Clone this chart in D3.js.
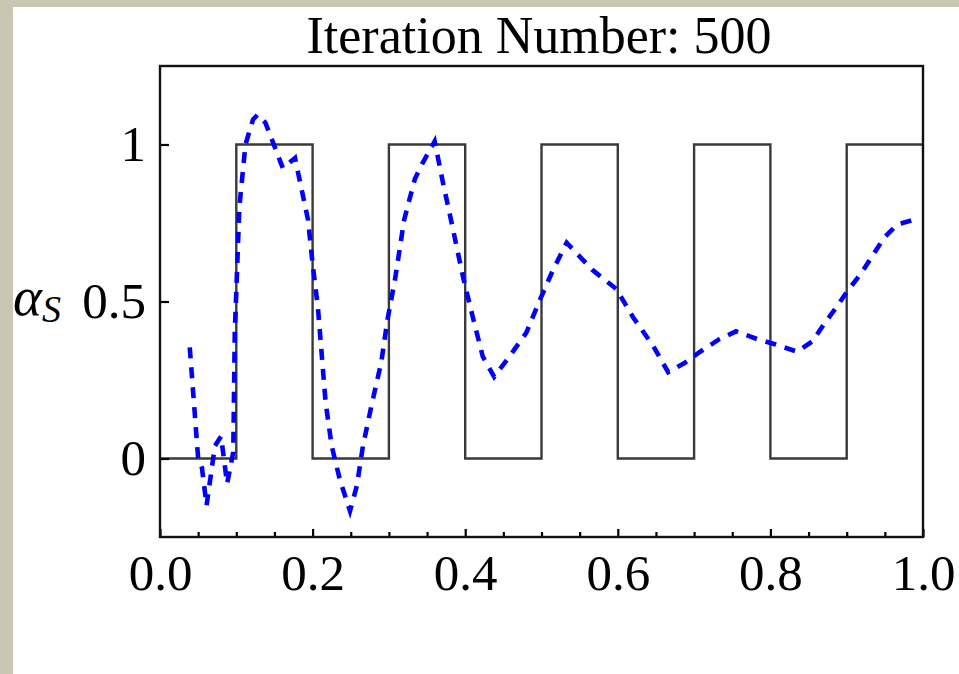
<!DOCTYPE html>
<html>
<head>
<meta charset="utf-8">
<script src="https://cdn.jsdelivr.net/npm/d3@7"></script>
<style>
  html, body { margin: 0; padding: 0; background: #fff; }
  svg { display: block; }
  text { font-family: "Liberation Serif", "Times New Roman", serif; fill: #000; }
</style>
</head>
<body>
<div id="chart"></div>
<script>
  // step target: value on each 0.1 interval
  var stepEdges  = [0, 0.1, 0.2, 0.3, 0.4, 0.5, 0.6, 0.7, 0.8, 0.9, 1.0];
  var stepLevels = [0, 1, 0, 1, 0, 1, 0, 1, 0, 1, 1];

  // estimated alpha_S after 500 iterations
  var estX = [0.039, 0.050, 0.055, 0.061, 0.072, 0.080, 0.088, 0.096, 0.098, 0.104, 0.112,
              0.122, 0.128, 0.138, 0.161, 0.177, 0.183, 0.194, 0.200, 0.207, 0.217, 0.225,
              0.236, 0.249, 0.258, 0.266, 0.277, 0.290, 0.298, 0.308, 0.320, 0.334, 0.344,
              0.360, 0.371, 0.384, 0.397, 0.410, 0.423, 0.438, 0.458, 0.480, 0.497, 0.515,
              0.533, 0.567, 0.598, 0.620, 0.646, 0.666, 0.688, 0.708, 0.733, 0.755, 0.783,
              0.807, 0.835, 0.855, 0.870, 0.886, 0.900, 0.919, 0.933, 0.949, 0.966, 0.995];
  var estY = [0.354, 0.000, -0.03, -0.15, 0.04, 0.07, -0.08, 0.02, 0.40, 0.80, 1.00,
              1.08, 1.095, 1.07, 0.925, 0.957, 0.887, 0.76, 0.62, 0.48, 0.18, 0.04,
              -0.07, -0.167, -0.087, 0.04, 0.167, 0.306, 0.44, 0.57, 0.76, 0.89, 0.94,
              1.01, 0.877, 0.73, 0.58, 0.45, 0.325, 0.26, 0.325, 0.40, 0.50, 0.60,
              0.687, 0.60, 0.54, 0.45, 0.36, 0.275, 0.305, 0.34, 0.38, 0.405, 0.38,
              0.363, 0.34, 0.373, 0.427, 0.48, 0.53, 0.59, 0.643, 0.703, 0.745, 0.765];

  var xMajor = [0, 0.2, 0.4, 0.6, 0.8, 1.0];
  var xMinor = [0.05, 0.1, 0.15, 0.25, 0.3, 0.35, 0.45, 0.5, 0.55, 0.65, 0.7, 0.75, 0.85, 0.9, 0.95];
  var yMajor = [0, 0.5, 1];
  var title = "Iteration Number: 500";

  var width = 959, height = 674;
  var margin = {left: 160, right: 36, top: 66, bottom: 137};

  var svg = d3.select("#chart").append("svg")
      .attr("width", width).attr("height", height);

  // window frame
  svg.append("rect").attr("width", width).attr("height", height).attr("fill", "#fff");
  svg.append("rect").attr("width", 13).attr("height", height).attr("fill", "#c9c7b2");
  svg.append("rect").attr("width", width).attr("height", 7).attr("fill", "#c9c7b2");

  var x = d3.scaleLinear().domain([0, 1]).range([margin.left, width - margin.right]);
  var y = d3.scaleLinear().domain([-0.25, 1.25]).range([height - margin.bottom, margin.top]);

  var plot = svg.append("g");

  // square wave
  var wave = stepEdges.map(function(e, i){ return [e, stepLevels[i]]; });
  plot.append("path")
      .datum(wave)
      .attr("fill", "none")
      .attr("stroke", "#3a3a3a")
      .attr("stroke-width", 2.4)
      .attr("d", d3.line().x(function(d){ return x(d[0]); }).y(function(d){ return y(d[1]); })
                 .curve(d3.curveStepAfter));

  // dashed estimate
  var est = estX.map(function(v, i){ return [v, estY[i]]; });
  plot.append("path")
      .datum(est)
      .attr("fill", "none")
      .attr("stroke", "#0000ff")
      .attr("stroke-width", 4.6)
      .attr("stroke-dasharray", "11,9")
      .attr("d", d3.line().x(function(d){ return x(d[0]); }).y(function(d){ return y(d[1]); }));

  // axes (ticks point inward, like the original)
  var fmtX = d3.format(".1f");
  svg.append("g")
      .attr("transform", "translate(0," + y.range()[0] + ")")
      .call(d3.axisBottom(x).tickValues(xMajor).tickSize(-8).tickPadding(17).tickFormat(fmtX));
  svg.append("g")
      .attr("transform", "translate(0," + y.range()[0] + ")")
      .call(d3.axisBottom(x).tickValues(xMinor).tickSize(-5).tickFormat(""));
  svg.append("g")
      .attr("transform", "translate(" + x.range()[0] + ",0)")
      .call(d3.axisLeft(y).tickValues(yMajor).tickSize(-9).tickPadding(14)
            .tickFormat(function(d){ return d === 0.5 ? "0.5" : String(d); }));

  svg.selectAll(".domain").remove();
  svg.selectAll(".tick line").attr("stroke", "#000").attr("stroke-width", 2.2);
  svg.selectAll(".tick text").style("font-size", "51px").style("font-family", "Liberation Serif, serif");

  // plot frame
  svg.append("rect")
      .attr("x", x.range()[0]).attr("y", y.range()[1])
      .attr("width", x.range()[1] - x.range()[0])
      .attr("height", y.range()[0] - y.range()[1])
      .attr("fill", "none").attr("stroke", "#111").attr("stroke-width", 2.4);

  // title
  svg.append("text")
      .attr("x", 539).attr("y", 53)
      .attr("text-anchor", "middle")
      .style("font-size", "52px")
      .text(title);

  // y label: alpha_S
  var lab = svg.append("text").attr("x", 13).attr("y", 315).style("font-style", "italic");
  lab.append("tspan").style("font-size", "55px").text("α");
  lab.append("tspan").attr("dy", 7).style("font-size", "38px").text("S");
</script>
</body>
</html>
